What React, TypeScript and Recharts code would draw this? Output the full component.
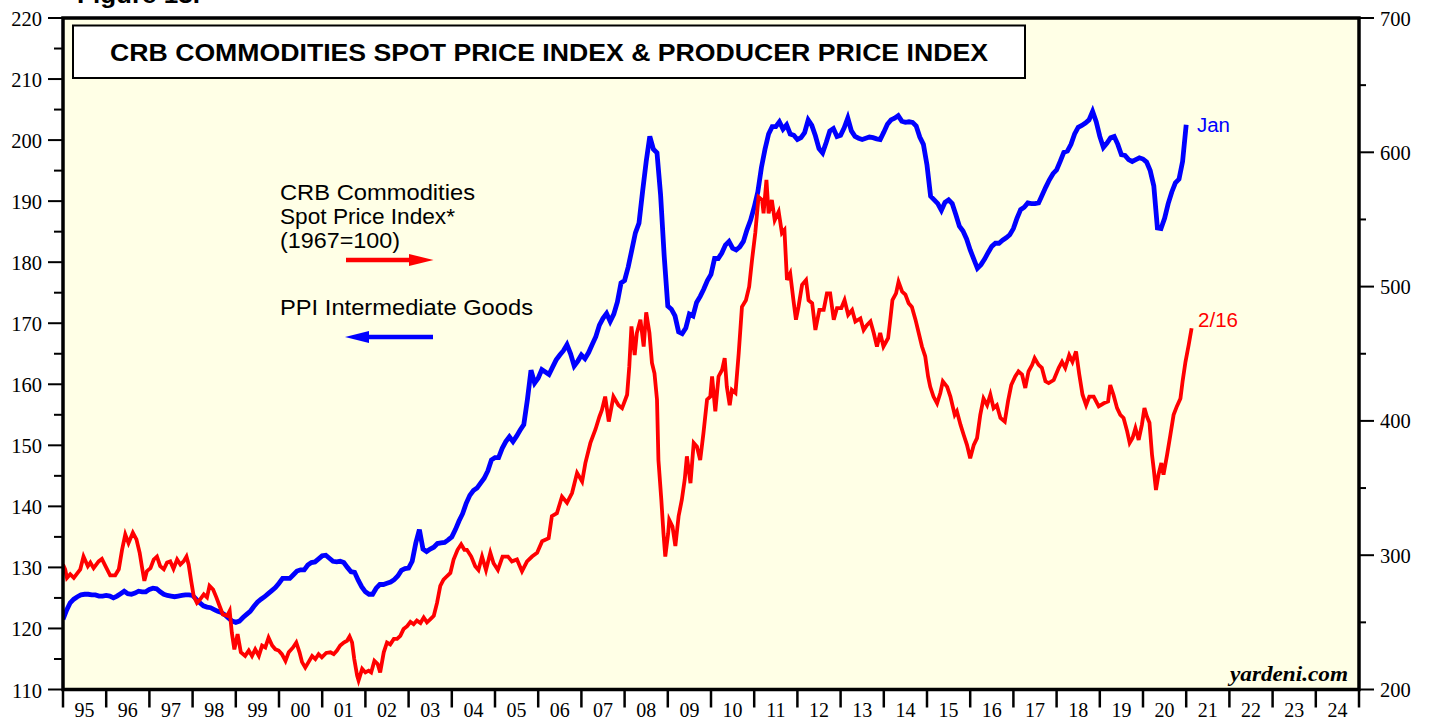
import React from 'react';
import { LineChart, Line, XAxis, YAxis, CartesianGrid } from 'recharts';

// PPI Intermediate Goods, monthly from Jan 1995 to Jan 2021 (left axis)
const ppiValues: number[] = [
  121.5, 123.0, 124.2, 124.8, 125.2, 125.5, 125.6, 125.6, 125.5, 125.5, 125.3, 125.3,
  125.4, 125.3, 125.0, 125.3, 125.7, 126.1, 125.7, 125.6, 125.8, 126.1, 126.0, 126.0,
  126.4, 126.6, 126.5, 126.0, 125.6, 125.4, 125.3, 125.2, 125.3, 125.4, 125.5, 125.5,
  125.4, 124.8, 124.2, 123.7, 123.5, 123.4, 123.1, 122.8, 122.6, 122.2, 121.7, 121.2,
  121.0, 121.2, 121.8, 122.3, 122.8, 123.6, 124.3, 124.8, 125.2, 125.7, 126.2, 126.7,
  127.4, 128.2, 128.2, 128.2, 128.8, 129.4, 129.6, 129.6, 130.4, 130.8, 130.9, 131.4,
  131.9, 132.0, 131.5, 131.0, 130.9, 131.0, 130.8, 130.0, 129.3, 129.2, 127.9, 126.8,
  126.0, 125.6, 125.6, 126.6, 127.2, 127.2, 127.4, 127.6, 128.0, 128.6, 129.5, 129.8,
  129.9, 131.0, 134.0, 136.2, 133.0, 132.6, 133.0, 133.3, 133.9, 134.0, 134.1, 134.5,
  135.0, 136.2, 137.6, 138.8, 140.5, 141.8, 142.6, 143.0, 143.8, 144.6, 145.8, 147.6,
  148.0, 148.0, 149.5, 150.6, 151.4, 150.6, 151.5, 152.5, 153.4, 157.5, 162.3, 160.2,
  161.0, 162.4, 162.0, 161.6, 162.8, 164.0, 164.8, 165.5, 166.5, 165.0, 163.0, 163.8,
  164.8, 164.2, 165.2, 166.5, 167.8, 169.7, 170.8, 171.6, 170.3, 171.5, 173.5, 176.6,
  177.0, 179.2, 182.0, 184.8, 186.4, 191.6, 196.5, 200.6, 198.5, 197.9, 191.0, 181.0,
  172.8, 172.3, 171.2, 168.6, 168.3, 169.2, 171.5, 171.2, 173.4, 174.4, 175.6, 177.0,
  178.0, 180.6, 180.6, 181.5, 182.8, 183.4, 182.3, 182.0, 182.5, 183.4, 185.3, 186.9,
  189.0, 191.5, 195.5, 198.5, 201.0, 202.2, 202.2, 203.0, 201.8, 202.5, 201.0, 200.8,
  200.1, 200.4, 201.2, 203.3, 202.4, 200.7, 198.6, 197.9, 199.6, 201.5, 201.9, 200.6,
  200.8, 202.0, 203.6, 201.5, 200.6, 200.3, 200.1, 200.3, 200.5, 200.4, 200.2, 200.1,
  201.3, 202.6, 203.3, 203.6, 204.0, 203.1, 202.9, 203.0, 202.9, 202.3, 200.5, 199.3,
  195.9, 190.8, 190.2, 189.6, 188.5, 189.8, 190.2, 189.6, 187.8, 185.9, 185.1, 183.8,
  182.0, 180.5, 179.0, 179.6, 180.5, 181.6, 182.6, 183.1, 183.1, 183.6, 184.0, 184.5,
  185.5, 187.2, 188.6, 189.0, 189.7, 189.6, 189.6, 189.7, 191.0, 192.3, 193.5, 194.5,
  195.1, 196.5, 198.0, 198.2, 199.3, 201.0, 202.1, 202.4, 202.8, 203.3, 204.7, 203.0,
  200.6, 198.8, 199.5, 200.4, 200.6, 199.3, 197.6, 197.5, 196.8, 196.5, 196.8, 197.1,
  196.9, 196.4, 195.0, 192.5, 185.6, 185.5, 187.2, 189.6, 191.5, 193.0, 193.6, 196.5,
  202.5,
];

// CRB Commodities Spot Price Index (right axis): months elapsed since Jan 1995, and values
const crbMonths: number[] = [
  0, 0.6, 1.1, 2.0, 3.0, 3.9, 4.8, 5.7, 6.9, 7.6, 8.5, 9.9, 10.8, 11.8, 13.1, 14.5, 15.5, 16.4, 17.3, 18.2,
  19.4, 20.4, 21.3, 21.9, 22.6, 23.3, 24.3, 25.2, 26.1, 27.0, 28.0, 28.9, 29.8, 30.7, 31.7, 32.6, 33.5, 34.3, 34.9, 35.6,
  36.3, 37.2, 38.1, 39.1, 40.0, 40.7, 41.7, 42.6, 43.5, 44.4, 45.6, 46.3, 46.9, 47.6, 48.5, 49.4, 50.6, 51.6, 52.5, 53.4,
  54.4, 55.3, 56.2, 57.1, 58.1, 59.0, 59.9, 60.8, 61.8, 62.7, 63.9, 64.8, 65.7, 66.4, 67.3, 68.2, 69.2, 70.1, 71.0, 71.9,
  73.1, 74.3, 75.2, 76.1, 77.0, 78.0, 78.9, 79.6, 80.3, 80.9, 81.7, 82.1, 83.1, 84.0, 84.9, 85.6, 86.5, 87.4, 88.1, 89.1,
  90.0, 90.9, 91.9, 92.8, 93.7, 94.6, 95.6, 96.5, 97.4, 98.3, 99.3, 100.2, 101.1, 102.0, 103.0, 103.9, 104.8, 105.7, 106.7, 107.6,
  108.5, 109.6, 110.6, 111.5, 112.2, 113.4, 114.5, 115.4, 116.4, 117.5, 118.7, 119.6, 120.8, 122.1, 123.6, 124.7, 126.1, 127.5, 128.9, 130.3,
  131.7, 133.1, 134.9, 135.8, 137.2, 138.6, 140.0, 141.4, 142.8, 144.2, 145.1, 146.5, 147.9, 149.0, 149.7, 150.6, 151.6, 152.9, 154.3, 155.3,
  156.7, 157.3, 157.9, 158.8, 159.4, 160.4, 161.3, 162.0, 162.9, 163.6, 164.3, 165.0, 165.4, 166.2, 166.8, 167.3, 168.1, 168.4, 169.3, 170.1,
  171.0, 171.9, 172.7, 173.3, 174.3, 175.2, 176.1, 177.0, 177.9, 178.9, 179.8, 180.3, 181.2, 182.1, 183.1, 183.8, 184.4, 185.2, 185.8, 186.8,
  187.7, 188.6, 189.7, 190.6, 191.4, 192.3, 193.2, 194.2, 194.6, 195.4, 196.0, 196.9, 197.7, 198.8, 199.7, 200.4, 201.1, 202.0, 202.9, 203.6,
  204.3, 205.3, 206.4, 207.1, 208.1, 209.0, 210.1, 211.3, 212.2, 213.1, 214.1, 215.0, 216.2, 217.1, 218.1, 219.2, 220.1, 221.5, 222.4, 223.3,
  224.3, 225.2, 226.1, 227.0, 227.9, 229.2, 229.8, 230.4, 231.4, 232.1, 233.1, 234.0, 234.9, 235.8, 236.8, 237.7, 238.6, 239.5, 240.3, 240.9,
  241.8, 242.8, 243.7, 244.4, 245.6, 246.5, 247.7, 248.3, 249.3, 250.2, 251.1, 252.0, 253.0, 253.9, 254.8, 255.7, 256.7, 257.6, 258.5, 259.4,
  260.4, 261.6, 262.5, 263.4, 264.5, 265.4, 266.4, 267.3, 268.2, 269.2, 269.9, 271.0, 271.9, 272.9, 273.8, 275.2, 276.6, 277.5, 278.4, 279.5,
  280.4, 281.4, 282.3, 283.2, 284.2, 285.1, 286.3, 287.7, 289.1, 290.3, 290.9, 291.8, 292.8, 293.7, 294.6, 295.6, 296.3, 297.1, 297.9, 298.8,
  299.7, 300.4, 301.1, 301.8, 302.5, 303.0, 303.6, 304.3, 305.1, 305.7, 306.7, 307.6, 308.5, 309.4, 310.4, 311.0, 311.8, 312.7, 313.5,
];
const crbValues: number[] = [
  293.1, 289.5, 283.1, 285.8, 283.1, 286.3, 289.5, 299.0, 291.8, 294.5, 290.4, 295.4, 297.2, 291.8, 285.0, 285.0, 289.5, 304.0, 315.4, 309.0,
  316.8, 311.8, 301.8, 291.8, 280.9, 288.1, 290.4, 296.8, 299.0, 291.8, 289.5, 294.5, 295.4, 289.9, 296.8, 293.1, 295.4, 299.0, 293.1, 280.9,
  269.5, 264.5, 267.2, 270.9, 268.6, 277.2, 274.5, 268.6, 262.2, 255.9, 254.9, 258.6, 242.2, 229.9, 241.3, 227.7, 225.0, 229.0, 225.0, 229.9,
  225.0, 232.7, 231.3, 238.6, 232.7, 229.9, 229.0, 226.3, 221.3, 227.7, 231.3, 235.0, 227.7, 220.4, 216.3, 220.4, 225.0, 222.7, 226.3, 224.0,
  227.2, 227.7, 226.3, 229.0, 232.7, 235.0, 236.3, 239.5, 235.0, 222.7, 210.4, 206.8, 215.4, 212.7, 214.0, 212.7, 221.3, 219.0, 212.7, 227.7,
  235.0, 233.6, 237.7, 237.7, 240.0, 245.0, 247.2, 250.4, 248.6, 251.3, 249.5, 253.6, 250.0, 252.2, 254.9, 264.5, 277.2, 281.8, 284.5, 286.8,
  296.8, 304.0, 308.1, 304.0, 304.0, 299.0, 291.8, 289.0, 299.0, 289.0, 301.8, 294.0, 289.0, 299.0, 299.0, 295.4, 296.8, 288.1, 295.4, 299.0,
  301.8, 310.4, 312.7, 329.0, 331.3, 343.6, 339.0, 346.3, 361.3, 354.9, 368.6, 383.6, 393.6, 403.1, 408.1, 418.1, 399.5, 418.1, 411.7, 409.5,
  419.5, 440.4, 470.4, 449.0, 465.4, 475.4, 455.4, 480.8, 465.4, 443.1, 435.4, 415.8, 370.8, 341.3, 316.3, 299.0, 316.3, 326.3, 321.3, 306.8,
  329.0, 341.3, 356.3, 373.6, 353.6, 383.6, 380.8, 370.8, 390.8, 415.8, 418.1, 433.1, 407.2, 433.1, 438.1, 446.7, 425.4, 411.7, 423.1, 420.8,
  450.4, 484.9, 489.9, 499.9, 519.9, 539.9, 566.7, 564.5, 554.5, 579.5, 554.5, 564.5, 549.5, 555.8, 539.9, 542.2, 504.9, 509.9, 489.9, 475.4,
  484.9, 501.3, 504.9, 489.9, 487.6, 467.7, 482.6, 482.6, 494.9, 494.9, 475.4, 484.0, 484.0, 489.9, 479.0, 482.6, 474.0, 476.3, 467.7, 471.3,
  474.0, 465.4, 455.4, 465.4, 455.4, 461.7, 475.4, 489.9, 494.9, 503.6, 496.3, 494.0, 487.6, 484.9, 475.4, 465.4, 455.4, 448.1, 433.1, 425.4,
  418.1, 413.1, 420.8, 429.5, 425.4, 418.1, 404.5, 407.2, 397.2, 389.5, 382.2, 372.2, 382.2, 387.2, 404.5, 416.7, 411.7, 419.5, 409.5, 411.7,
  402.2, 399.5, 414.5, 426.7, 433.1, 436.8, 434.5, 424.5, 436.8, 441.7, 446.7, 441.7, 439.5, 429.5, 428.1, 430.4, 439.5, 444.0, 439.5, 449.0,
  444.0, 451.7, 434.5, 419.5, 411.7, 418.1, 418.1, 410.8, 413.1, 414.5, 426.7, 419.5, 409.5, 404.5, 402.2, 392.2, 383.6, 387.2, 394.5, 385.8,
  397.2, 409.5, 403.1, 398.6, 374.9, 363.6, 348.6, 359.9, 368.6, 359.9, 374.9, 389.5, 404.5, 410.8, 416.7, 429.5, 444.0, 456.7, 469.0,
];

const yearTicks: number[] = Array.from({ length: 31 }, (_, i) => 1995 + i);
const leftTicks: number[] = Array.from({ length: 23 }, (_, i) => 110 + i * 5);
const rightTicks: number[] = Array.from({ length: 11 }, (_, i) => 200 + i * 50);

type Row = { t: number; ppi?: number; crb?: number };
const chartData: Row[] = (() => {
  const rows: Row[] = [];
  ppiValues.forEach((v, i) => rows.push({ t: 1995 + i / 12, ppi: v }));
  crbMonths.forEach((m, i) => rows.push({ t: 1995 + m / 12, crb: crbValues[i] }));
  rows.sort((a, b) => a.t - b.t);
  return rows;
})();

const SERIF = "'Liberation Serif', 'Times New Roman', serif";
const SANS = "'Liberation Sans', Arial, sans-serif";

const XTick = (props: any) => {
  const { x, y, payload } = props;
  const yr = payload.value as number;
  return (
    <g>
      <line x1={x} y1={y} x2={x} y2={y + 18} stroke="#000" strokeWidth={2.5} />
      {yr < 2025 && (
        <text x={x + 21.6} y={y + 27} textAnchor="middle" fontFamily={SERIF} fontSize={20} fill="#000">
          {String(yr % 100).padStart(2, '0')}
        </text>
      )}
    </g>
  );
};

const LeftTick = (props: any) => {
  const { x, y, payload } = props;
  const v = payload.value as number;
  const major = v % 10 === 0;
  return (
    <g>
      <line x1={x - (major ? 15 : 9)} y1={y} x2={x} y2={y} stroke="#000" strokeWidth={2} />
      {major && (
        <text x={x - 21} y={y + 8} textAnchor="end" fontFamily={SERIF} fontSize={20.5} fill="#000">
          {v}
        </text>
      )}
    </g>
  );
};

const RightTick = (props: any) => {
  const { x, y, payload } = props;
  const v = payload.value as number;
  const major = v % 100 === 0;
  return (
    <g>
      <line x1={x} y1={y} x2={x + (major ? 15 : 7)} y2={y} stroke="#000" strokeWidth={2} />
      {major && (
        <text x={x + 21} y={y + 7.5} textAnchor="start" fontFamily={SERIF} fontSize={20.5} fill="#000">
          {v}
        </text>
      )}
    </g>
  );
};

export default function App() {
  return (
    <div style={{ position: 'absolute', left: 0, top: 0, width: 1429, height: 721, background: '#fff' }}>
      <LineChart
        width={1429}
        height={721}
        data={chartData}
        margin={{ top: 18, right: 0, left: 0, bottom: 0 }}
      >
        <CartesianGrid fill="#FFFFE6" stroke="none" horizontal={false} vertical={false} yAxisId="left" />
        <XAxis
          dataKey="t"
          type="number"
          domain={[1995, 2025]}
          ticks={yearTicks}
          interval={0}
          allowDataOverflow
          height={31.5}
          axisLine={false}
          tickLine={false}
          tickSize={0}
          tickMargin={0}
          tick={<XTick />}
        />
        <YAxis
          yAxisId="left"
          orientation="left"
          type="number"
          domain={[110, 220]}
          ticks={leftTicks}
          interval={0}
          allowDataOverflow
          width={63}
          axisLine={false}
          tickLine={false}
          tickSize={0}
          tickMargin={0}
          tick={<LeftTick />}
        />
        <YAxis
          yAxisId="right"
          orientation="right"
          type="number"
          domain={[200, 700]}
          ticks={rightTicks}
          interval={0}
          allowDataOverflow
          width={70}
          axisLine={false}
          tickLine={false}
          tickSize={0}
          tickMargin={0}
          tick={<RightTick />}
        />
        <Line
          yAxisId="left"
          type="linear"
          dataKey="ppi"
          stroke="#0000FF"
          strokeWidth={4.8}
          dot={false}
          activeDot={false}
          connectNulls
          isAnimationActive={false}
        />
        <Line
          yAxisId="right"
          type="linear"
          dataKey="crb"
          stroke="#FF0000"
          strokeWidth={3.8}
          dot={false}
          activeDot={false}
          connectNulls
          isAnimationActive={false}
        />
      </LineChart>
      <svg
        width={1429}
        height={721}
        style={{ position: 'absolute', left: 0, top: 0, pointerEvents: 'none' }}
      >
        <text x={77} y={3} fontFamily={SANS} fontWeight="bold" fontSize={24} fill="#000" textLength={123} lengthAdjust="spacingAndGlyphs">
          Figure 13.
        </text>
        <rect x={63} y={18} width={1296} height={671.5} fill="none" stroke="#000" strokeWidth={3.5} />
        <rect x={73} y={25.5} width={952} height={52.5} fill="#fff" stroke="#000" strokeWidth={2} />
        <text x={110} y={61} fontFamily={SANS} fontWeight="bold" fontSize={24.7} fill="#000" textLength={878} lengthAdjust="spacingAndGlyphs">
          CRB COMMODITIES SPOT PRICE INDEX &amp; PRODUCER PRICE INDEX
        </text>
        <text x={280} y={200} fontFamily={SANS} fontSize={21.5} fill="#000" textLength={195} lengthAdjust="spacingAndGlyphs">
          CRB Commodities
        </text>
        <text x={280} y={224} fontFamily={SANS} fontSize={21.5} fill="#000" textLength={175} lengthAdjust="spacingAndGlyphs">
          Spot Price Index*
        </text>
        <text x={280} y={247.5} fontFamily={SANS} fontSize={21.5} fill="#000" textLength={120} lengthAdjust="spacingAndGlyphs">
          (1967=100)
        </text>
        <line x1={346} y1={260} x2={412} y2={260} stroke="#FF0000" strokeWidth={4.5} />
        <polygon points="409,254 433.5,260 409,266" fill="#FF0000" />
        <text x={280} y={315} fontFamily={SANS} fontSize={21.5} fill="#000" textLength={253} lengthAdjust="spacingAndGlyphs">
          PPI Intermediate Goods
        </text>
        <line x1={433} y1={337} x2={366} y2={337} stroke="#0000FF" strokeWidth={4.5} />
        <polygon points="369,331 345,337 369,343" fill="#0000FF" />
        <text x={1197} y={132} fontFamily={SANS} fontSize={19.5} fill="#0000FF" textLength={33} lengthAdjust="spacingAndGlyphs">
          Jan
        </text>
        <text x={1198} y={327} fontFamily={SANS} fontSize={19.5} fill="#FF0000" textLength={40} lengthAdjust="spacingAndGlyphs">
          2/16
        </text>
        <text x={1348} y={681} textAnchor="end" fontFamily={SERIF} fontWeight="bold" fontStyle="italic" fontSize={21.5} fill="#000" textLength={118} lengthAdjust="spacingAndGlyphs">
          yardeni.com
        </text>
      </svg>
    </div>
  );
}
